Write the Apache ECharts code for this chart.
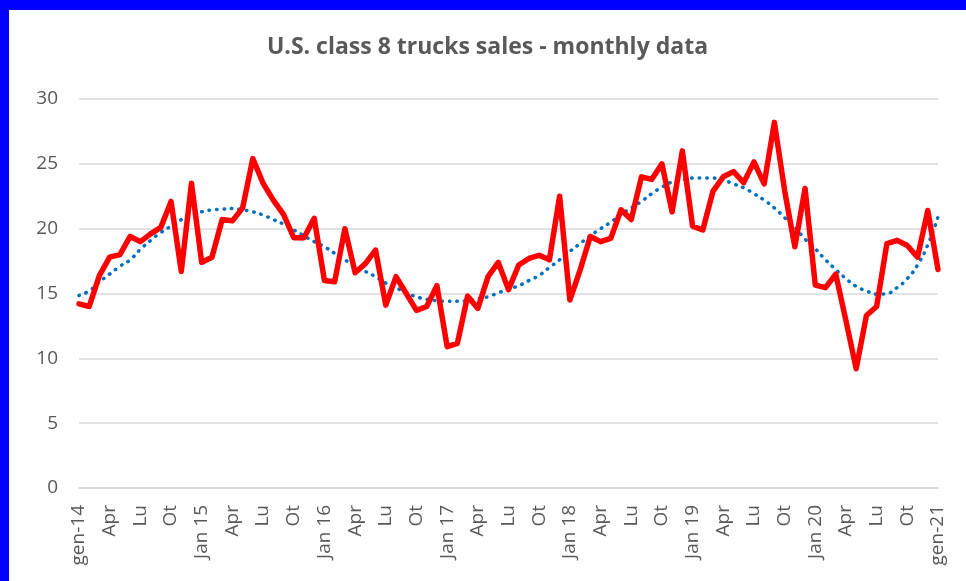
<!DOCTYPE html>
<html>
<head>
<meta charset="utf-8">
<script src="https://cdn.jsdelivr.net/npm/echarts@6/dist/echarts.min.js"></script>
<style>
  html, body { margin: 0; padding: 0; background: #0000ff; overflow: hidden; }
  #chart { position: absolute; left: 9px; top: 10px; width: 957px; height: 571px; background: #ffffff; }
</style>
</head>
<body>
<div id="chart"></div>
<script>
// months gen-14 .. gen-21
const months = [];
for (let y = 2014; y <= 2021; y++) {
  for (let m = 1; m <= 12; m++) {
    if (y === 2021 && m > 1) break;
    months.push(y + '-' + (m < 10 ? '0' + m : m));
  }
}

// label every 3 months
const tickLabels = [
  'gen-14', 'Apr', 'Lu', 'Ot',
  'Jan 15', 'Apr', 'Lu', 'Ot',
  'Jan 16', 'Apr', 'Lu', 'Ot',
  'Jan 17', 'Apr', 'Lu', 'Ot',
  'Jan 18', 'Apr', 'Lu', 'Ot',
  'Jan 19', 'Apr', 'Lu', 'Ot',
  'Jan 20', 'Apr', 'Lu', 'Ot',
  'gen-21'
];

// monthly sales (thousands)
const sales = [
  14.2, 14.0, 16.4, 17.8, 18.0, 19.4, 19.0, 19.6, 20.1, 22.1, 16.7, 23.5,
  17.4, 17.8, 20.7, 20.6, 21.6, 25.4, 23.5, 22.2, 21.1, 19.3, 19.3, 20.8,
  16.0, 15.9, 20.0, 16.6, 17.3, 18.35, 14.1, 16.3, 15.0, 13.7, 14.0, 15.6,
  10.9, 11.15, 14.8, 13.85, 16.3, 17.4, 15.3, 17.2, 17.7, 17.95, 17.6, 22.5,
  14.5, 16.8, 19.4, 19.0, 19.25, 21.45, 20.7, 24.0, 23.8, 25.0, 21.3, 26.0,
  20.2, 19.9, 22.9, 24.0, 24.4, 23.55, 25.15, 23.45, 28.2, 22.95, 18.6, 23.1,
  15.65, 15.45, 16.5, 12.9, 9.2, 13.3, 14.0, 18.85, 19.1, 18.7, 17.8, 21.4,
  16.85
];

// polynomial trend line as drawn
const trend = [
  14.85, 15.2, 15.9, 16.5, 17.1, 17.6, 18.4, 19.1, 19.7, 20.2, 20.7, 21.05,
  21.3, 21.45, 21.5, 21.55, 21.45, 21.3, 21.05, 20.7, 20.35, 19.9, 19.45, 19.0,
  18.6, 18.1, 17.6, 17.1, 16.7, 16.3, 15.8, 15.45, 15.05, 14.75, 14.55, 14.45,
  14.4, 14.4, 14.45, 14.6, 14.75, 15.05, 15.35, 15.6, 16.0, 16.4, 17.0, 17.6,
  18.25, 18.85, 19.45, 20.0, 20.5, 21.1, 21.6, 22.1, 22.7, 23.2, 23.6, 23.75,
  23.9, 23.9, 23.9, 23.75, 23.45, 23.15, 22.7, 22.2, 21.6, 20.85, 20.1, 19.2,
  18.45, 17.6, 16.85, 16.15, 15.55, 15.2, 14.95, 15.0, 15.45, 16.15, 17.2, 18.75,
  20.9
];

const chart = echarts.init(document.getElementById('chart'));
const gray = '#595959';
const font = '"Open Sans", sans-serif';

const option = {
  animation: false,
  backgroundColor: '#ffffff',
  title: {
    text: 'U.S. class 8 trucks sales - monthly data',
    left: 'center',
    top: 21,
    textStyle: { color: gray, fontSize: 23, fontWeight: 'bold', fontFamily: font }
  },
  grid: { left: 70, right: 28, top: 89, bottom: 93 },
  xAxis: {
    type: 'category',
    data: months,
    boundaryGap: false,
    axisLine: { lineStyle: { color: '#d9d9d9', width: 1.5 } },
    axisTick: { show: false },
    axisLabel: {
      interval: 2,
      rotate: 90,
      margin: 17,
      color: gray,
      fontSize: 19,
      fontFamily: font,
      formatter: function (val, idx) { return tickLabels[idx / 3]; }
    }
  },
  yAxis: {
    type: 'value',
    min: 0,
    max: 30,
    interval: 5,
    axisLine: { show: false },
    axisTick: { show: false },
    splitLine: { lineStyle: { color: '#d9d9d9', width: 1.5 } },
    axisLabel: { color: gray, fontSize: 19, fontFamily: font, margin: 21 }
  },
  series: [
    {
      name: 'sales',
      type: 'line',
      data: sales,
      showSymbol: false,
      lineStyle: { color: '#ff0000', width: 5.5, join: 'round', cap: 'round' },
      z: 3
    },
    {
      name: 'trend',
      type: 'line',
      data: trend,
      smooth: true,
      showSymbol: false,
      lineStyle: { color: '#0070c0', width: 3.5, type: [0.5, 7], cap: 'round' },
      z: 2
    }
  ]
};
chart.setOption(option);
window.addEventListener('resize', function () {
  chart.resize();
});
</script>
</body>
</html>
